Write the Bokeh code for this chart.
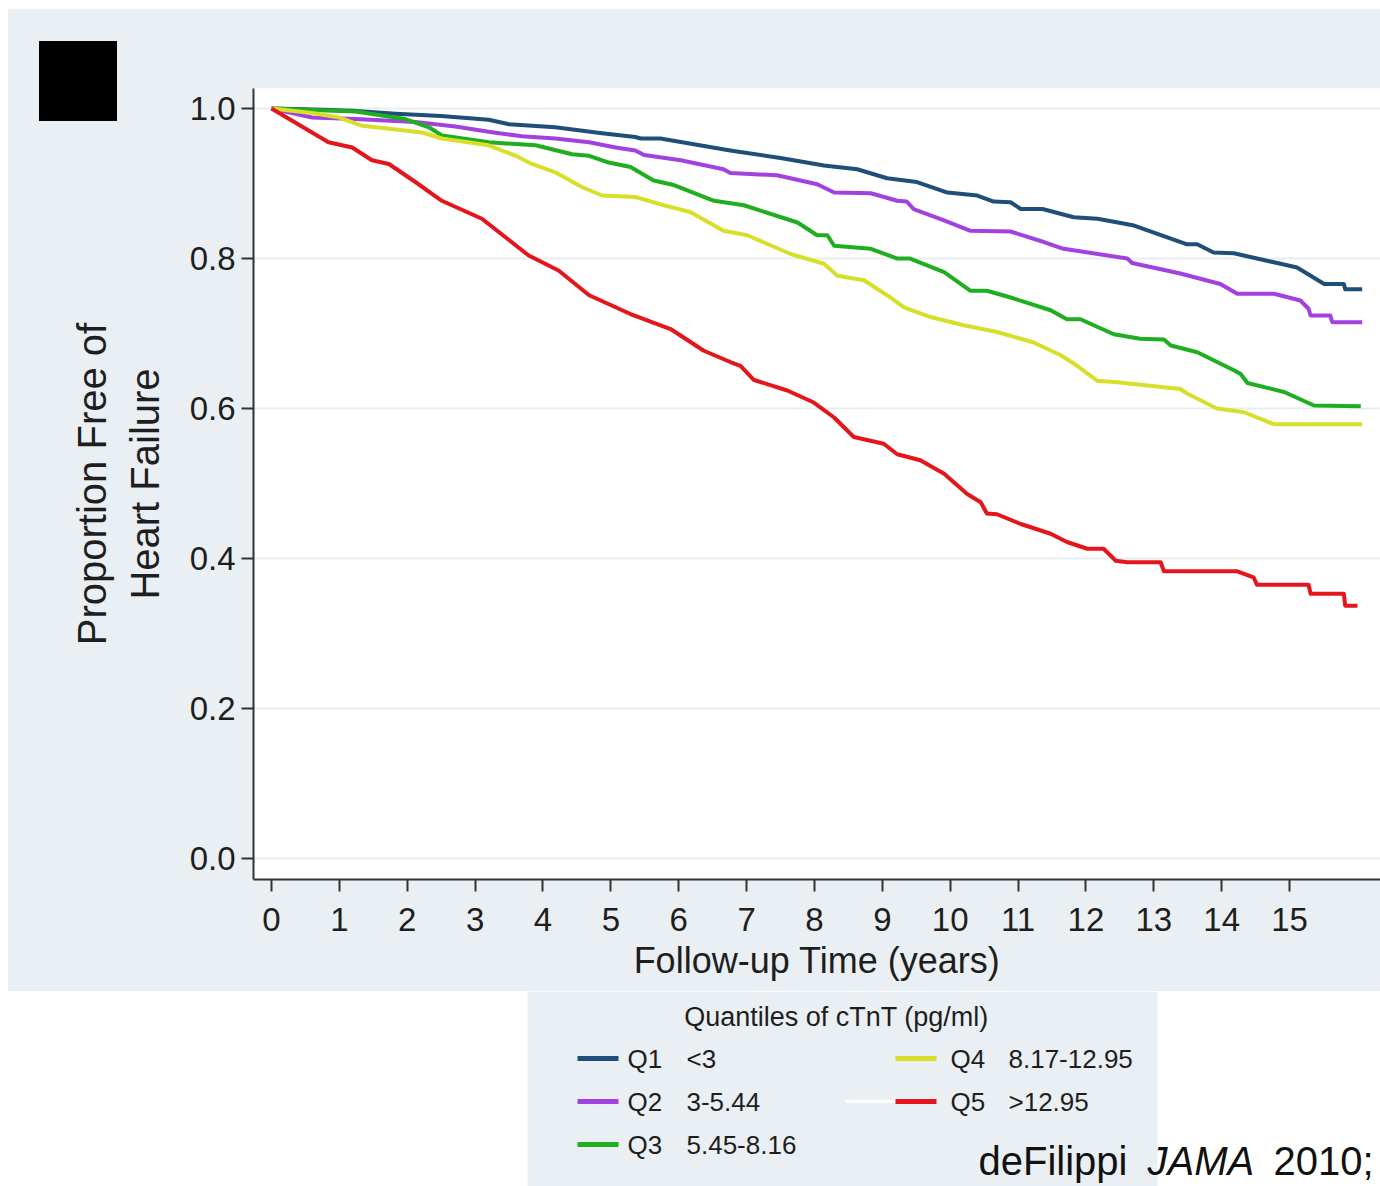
from bokeh.plotting import figure
from bokeh.models import Range1d, FixedTicker, NumeralTickFormatter, Spacer, InlineStyleSheet
from bokeh.layouts import column
from bokeh.embed import file_html
from bokeh.resources import INLINE
from bokeh.core.properties import value

PANEL = "#eaeff3"
FONT = "Liberation Sans"
INK = "#1e1e1e"

# ---------------- data ----------------
x_ticks = list(range(16))
y_ticks = [0.0, 0.2, 0.4, 0.6, 0.8, 1.0]

series_names = ["Q1", "Q2", "Q3", "Q4", "Q5"]
series_ranges = ["<3", "3-5.44", "5.45-8.16", "8.17-12.95", ">12.95"]
series_colors = ["#1f4e79", "#a142e0", "#1fae1f", "#d7df2b", "#e4161b"]
legend_title = "Quantiles of cTnT (pg/ml)"

q1_t = [0, 0.5, 1.19, 1.83, 2.5, 3.20, 3.50, 4.18, 4.87, 5.36, 5.44, 5.73, 6.76, 7.5, 8.14,
        8.63, 9.07, 9.51, 9.96, 10.40, 10.64, 10.89, 11.04, 11.36, 11.82, 12.17, 12.71, 13.49,
        13.64, 13.88, 14.18, 14.77, 15.11, 15.51, 15.80, 15.82, 16.07]
q1_s = [1.0, 0.999, 0.997, 0.993, 0.990, 0.985, 0.979, 0.975, 0.967, 0.962, 0.960, 0.960, 0.944,
        0.934, 0.924, 0.919, 0.907, 0.902, 0.888, 0.884, 0.876, 0.875, 0.866, 0.866, 0.855, 0.853,
        0.844, 0.819, 0.819, 0.808, 0.807, 0.795, 0.788, 0.766, 0.766, 0.759, 0.759]

q2_t = [0, 0.3, 0.60, 1.24, 2.12, 2.71, 3.20, 3.69, 4.18, 4.68, 5.07, 5.36, 5.49, 6.03, 6.66,
        6.76, 7.45, 8.04, 8.29, 8.83, 9.22, 9.36, 9.46, 9.91, 10.30, 10.89, 11.38, 11.67, 12.61,
        12.68, 13.39, 13.98, 14.23, 14.77, 15.16, 15.28, 15.31, 15.60, 15.63, 16.07]
q2_s = [1.0, 0.994, 0.988, 0.986, 0.982, 0.976, 0.969, 0.963, 0.960, 0.955, 0.948, 0.944, 0.938,
        0.931, 0.919, 0.914, 0.911, 0.899, 0.888, 0.887, 0.877, 0.876, 0.866, 0.851, 0.837, 0.836,
        0.822, 0.813, 0.800, 0.794, 0.780, 0.766, 0.753, 0.753, 0.744, 0.733, 0.724, 0.724, 0.715,
        0.715]

q3_t = [0, 0.6, 1.24, 1.97, 2.32, 2.51, 3.20, 3.89, 4.43, 4.68, 4.97, 5.29, 5.63, 5.93, 6.52,
        6.96, 7.75, 8.04, 8.19, 8.29, 8.83, 9.22, 9.41, 9.91, 10.30, 10.54, 10.89, 11.48, 11.72,
        11.92, 12.41, 12.80, 13.15, 13.25, 13.64, 14.18, 14.28, 14.38, 14.92, 15.36, 16.05]
q3_s = [1.0, 0.998, 0.996, 0.986, 0.975, 0.964, 0.955, 0.951, 0.939, 0.937, 0.928, 0.922, 0.904,
        0.898, 0.877, 0.871, 0.848, 0.831, 0.831, 0.817, 0.813, 0.800, 0.800, 0.782, 0.757, 0.757,
        0.748, 0.731, 0.719, 0.719, 0.699, 0.693, 0.692, 0.684, 0.675, 0.651, 0.646, 0.634, 0.622,
        0.604, 0.603]

q4_t = [0, 0.6, 1.0, 1.34, 1.93, 2.22, 2.51, 3.20, 3.60, 3.79, 4.18, 4.58, 4.87, 5.36, 5.78,
        6.17, 6.66, 7.01, 7.65, 8.14, 8.34, 8.73, 9.12, 9.32, 9.71, 10.20, 10.69, 11.23, 11.63,
        11.87, 12.17, 12.46, 13.39, 13.49, 13.93, 14.33, 14.77, 16.07]
q4_s = [1.0, 0.994, 0.988, 0.977, 0.971, 0.968, 0.960, 0.951, 0.937, 0.928, 0.915, 0.895, 0.884,
        0.882, 0.871, 0.862, 0.837, 0.831, 0.806, 0.793, 0.777, 0.771, 0.748, 0.735, 0.722, 0.711,
        0.702, 0.688, 0.671, 0.657, 0.637, 0.635, 0.626, 0.620, 0.600, 0.595, 0.579, 0.579]

q5_t = [0, 0.84, 1.19, 1.48, 1.73, 2.12, 2.51, 3.10, 3.79, 4.23, 4.68, 5.29, 5.88, 6.37, 6.76,
        6.91, 7.11, 7.60, 7.99, 8.29, 8.58, 9.02, 9.22, 9.56, 9.91, 10.25, 10.45, 10.54, 10.69,
        11.04, 11.48, 11.72, 12.02, 12.26, 12.44, 12.61, 13.10, 13.15, 14.23, 14.47, 14.52, 15.28,
        15.31, 15.80, 15.82, 16.0]
q5_s = [1.0, 0.955, 0.948, 0.931, 0.926, 0.902, 0.877, 0.853, 0.804, 0.784, 0.751, 0.726, 0.706,
        0.677, 0.662, 0.657, 0.638, 0.624, 0.608, 0.588, 0.562, 0.553, 0.539, 0.531, 0.513, 0.486,
        0.475, 0.460, 0.459, 0.446, 0.433, 0.422, 0.413, 0.413, 0.397, 0.395, 0.395, 0.383, 0.383,
        0.375, 0.365, 0.365, 0.353, 0.353, 0.337, 0.337]

series_t = [q1_t, q2_t, q3_t, q4_t, q5_t]
series_s = [q1_s, q2_s, q3_s, q4_s, q5_s]

citation_parts = ["deFilippi", "JAMA", "2010;"]
citation_styles = ["normal", "italic", "normal"]

# ---------------- main plot ----------------
p = figure(width=1380, height=983,
           x_range=Range1d(-0.265, 16.34), y_range=Range1d(-0.028, 1.0267),
           output_backend="svg", toolbar_location=None,
           min_border_left=253, min_border_right=0, min_border_top=80, min_border_bottom=112)
p.border_fill_color = PANEL
p.background_fill_color = "white"
p.outline_line_color = None

for t, s, c in zip(series_t, series_s, series_colors):
    p.line(t, s, line_color=c, line_width=4, line_join="round")

p.xgrid.grid_line_color = None
p.ygrid.grid_line_color = "#e9edf0"
p.ygrid.grid_line_width = 2
p.ygrid.ticker = FixedTicker(ticks=y_ticks)

p.xaxis.ticker = FixedTicker(ticks=x_ticks)
p.yaxis.ticker = FixedTicker(ticks=y_ticks)
p.yaxis.formatter = NumeralTickFormatter(format="0.0")

for ax in (p.xaxis[0], p.yaxis[0]):
    ax.axis_line_color = "#333333"
    ax.axis_line_width = 2
    ax.major_tick_line_color = "#333333"
    ax.major_tick_line_width = 2
    ax.major_tick_in = 0
    ax.major_tick_out = 12
    ax.minor_tick_line_color = None
    ax.major_label_text_font = FONT
    ax.major_label_text_font_size = "33px"
    ax.major_label_text_color = INK
    ax.axis_label_text_font = FONT
    ax.axis_label_text_font_style = "normal"
    ax.axis_label_text_color = INK

p.xaxis.axis_label = "Follow-up Time (years)"
p.xaxis.axis_label_text_font_size = "36px"
p.xaxis.major_label_standoff = 16
p.xaxis.axis_label_standoff = 6

p.yaxis.axis_label = "Proportion Free of\nHeart Failure"
p.yaxis.axis_label_text_font_size = "40px"
p.yaxis.major_label_standoff = 6
p.yaxis.axis_label_standoff = 20

# white page margin on the left and the black square in the top-left corner
p.stylesheets = [InlineStyleSheet(css="""
:host { position: relative; }
:host::before { content: ""; position: absolute; left: 0px; top: 0px; width: 8px; height: 100%;
                background: #ffffff; z-index: 50; }
:host::after { content: ""; position: absolute; left: 39px; top: 33px; width: 78px; height: 80px;
               background: #000000; z-index: 50; }
""")]

# ---------------- legend / citation strip ----------------
pb = figure(width=1380, height=195, x_range=Range1d(253, 1380), y_range=Range1d(1186, 991),
            output_backend="svg", toolbar_location=None,
            min_border_left=253, min_border_right=0, min_border_top=0, min_border_bottom=0,
            x_axis_location=None, y_axis_location=None)
pb.grid.visible = False
pb.outline_line_color = None
pb.background_fill_color = "white"
pb.border_fill_color = "white"

pb.quad(left=[527], right=[1157], top=[991], bottom=[1186], fill_color=PANEL, line_color=None)
pb.text(x=[836], y=[1016], text=[legend_title], text_font=value(FONT), text_font_size="27px",
        text_align="center", text_baseline="middle", text_color=INK)

col_line_x = [577, 895]
col_q_x = [627, 950]
col_v_x = [686, 1008]
row_y = [1058, 1101, 1144]
lx0, lx1, ly, qx, vx = [], [], [], [], []
for i in range(len(series_names)):
    c, r = i // 3, i % 3
    lx0.append(col_line_x[c]); lx1.append(col_line_x[c] + 41)
    ly.append(row_y[r]); qx.append(col_q_x[c]); vx.append(col_v_x[c])

# faint white stroke seen before the Q5 swatch
pb.segment(x0=[lx0[4] - 50], y0=[ly[4]], x1=[lx0[4]], y1=[ly[4]], line_color="white", line_width=3)
pb.segment(x0=lx0, y0=ly, x1=lx1, y1=ly, line_color=series_colors, line_width=5)
pb.text(x=qx, y=ly, text=series_names, text_font=value(FONT), text_font_size="26px",
        text_baseline="middle", text_color=INK)
pb.text(x=vx, y=ly, text=series_ranges, text_font=value(FONT), text_font_size="26px",
        text_baseline="middle", text_color=INK)

cit_x = [978, 1147, 1273]
for txt, st, x in zip(citation_parts, citation_styles, cit_x):
    pb.text(x=[x], y=[1160], text=[txt], text_font=value(FONT), text_font_size="40px",
            text_font_style=st, text_baseline="middle", text_color="#111111")

layout = column(Spacer(width=1380, height=8), p, pb, spacing=0)
open("out.html", "w").write(file_html(layout, INLINE))
